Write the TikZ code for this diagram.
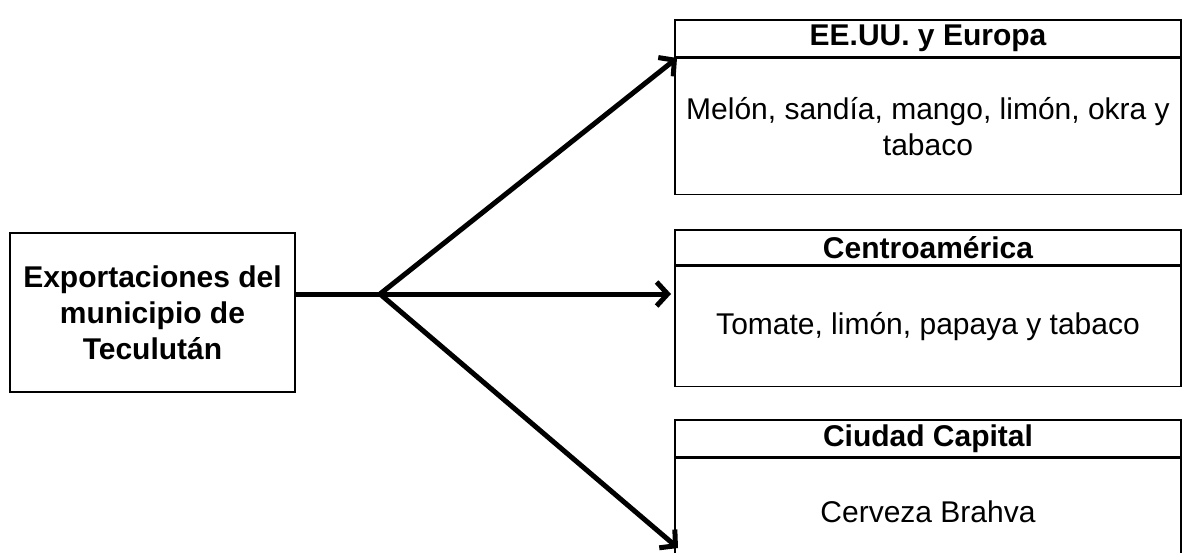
\documentclass[tikz,border=0pt]{standalone}
\usepackage{fontspec}
\setmainfont{Liberation Sans}
\usetikzlibrary{arrows.meta}
\begin{document}
\begin{tikzpicture}[x=1pt,y=-1pt,
  box/.style={draw, line width=1.4pt, inner sep=0pt, align=center},
  txt/.style={font=\fontsize{30}{36}\selectfont},
  btxt/.style={font=\bfseries\fontsize{30}{36}\selectfont},
  link/.style={line width=5pt, line join=round},
  conn/.style={link, -{Straight Barb[length=11pt,width=24pt]}}
]
\useasboundingbox (0,0) rectangle (1183,552);
\node[box, line width=2.2pt, btxt, minimum width=285pt, minimum height=159pt] (src) at (152.5,312.5)
  {Exportaciones del\\municipio de\\Teculután};

\node[box, btxt, minimum width=506pt, minimum height=37pt] (h1) at (928,38.5) {EE.UU. y Europa};
\node[box, txt, minimum width=506pt, minimum height=136pt, anchor=north] (b1) at (h1.south)
  {Melón, sandía, mango, limón, okra y\\tabaco};

\node[box, btxt, minimum width=506pt, minimum height=35pt] (h2) at (928,247.5) {Centroamérica};
\node[box, txt, minimum width=506pt, minimum height=120pt, anchor=north] (b2) at (h2.south)
  {Tomate, limón, papaya y tabaco};

\node[box, btxt, minimum width=506pt, minimum height=37pt] (h3) at (928,438.5) {Ciudad Capital};
\node[box, txt, minimum width=506pt, minimum height=106pt, anchor=north] (b3) at (h3.south)
  {Cerveza Brahva};

\coordinate (j) at (380,294);
\coordinate (t1) at (677,58);
\coordinate (t2) at (671,294);
\coordinate (t3) at (678,548);

\draw[link] (src.east |- j) -- (j);
\draw[conn] (j) -- (t1);
\draw[conn] (j) -- (t2);
\draw[conn] (j) -- (t3);
\end{tikzpicture}
\end{document}
